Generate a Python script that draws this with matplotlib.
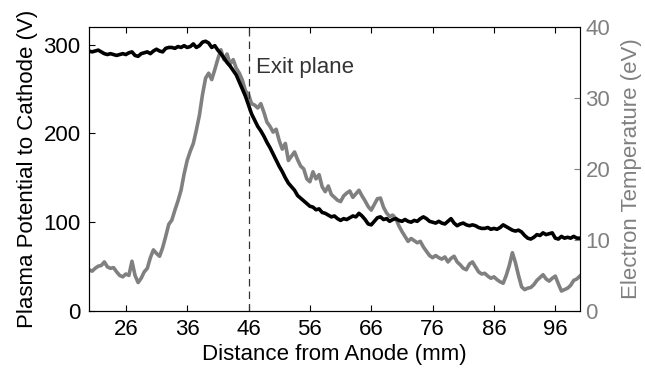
import numpy as np
import matplotlib
matplotlib.use("Agg")
import matplotlib.pyplot as plt

plt.rcParams['font.family'] = ['Liberation Sans', 'DejaVu Sans']
plt.rcParams['font.size'] = 16

# distance from anode (mm), sampled every 0.5 mm
dist = np.arange(20, 100.01, 0.5)

# plasma potential to cathode (V)
potential = [293, 292, 293, 294, 292, 290, 289, 290, 289, 288,
             289, 290, 289, 291, 292, 288, 287, 290, 291, 292,
             290, 293, 295, 293, 292, 296, 297, 297, 296, 298,
             297, 299, 297, 298, 301, 297, 299, 303, 304, 302,
             297, 299, 294, 290, 285, 280, 276, 271, 266, 258,
             250, 242, 232, 222, 215, 208, 203, 197, 190, 184,
             177, 170, 163, 157, 150, 144, 140, 136, 130, 127,
             124, 121, 118, 117, 114, 115, 111, 110, 108, 106,
             107, 104, 102, 104, 103, 105, 107, 106, 110, 107,
             103, 98, 97, 101, 105, 106, 103, 104, 101, 103,
             104, 102, 101, 103, 101, 100, 102, 101, 104, 106,
             104, 101, 100, 99, 101, 99, 98, 101, 104, 99,
             96, 98, 99, 97, 96, 97, 96, 94, 93, 93,
             94, 92, 93, 92, 94, 97, 95, 93, 91, 90,
             91, 89, 85, 82, 81, 83, 86, 85, 88, 86,
             87, 88, 82, 81, 84, 82, 83, 82, 84, 82,
             82]

# electron temperature (eV)
temperature = [5.8, 5.6, 6.0, 6.3, 6.4, 6.9, 6.2, 6.0, 6.1, 5.5,
               5.0, 4.8, 5.2, 5.0, 7.0, 5.0, 4.0, 4.6, 5.5, 6.0,
               7.5, 8.6, 8.1, 7.7, 8.9, 10.5, 12.2, 12.8, 14.2, 15.5,
               17.0, 19.3, 21.2, 22.5, 23.6, 25.5, 27.6, 30.5, 32.8, 33.5,
               32.6, 34.0, 35.5, 36.8, 35.4, 36.2, 34.8, 35.4, 34.2, 33.5,
               32.5, 31.0, 30.5, 29.2, 29.0, 28.6, 29.2, 28.0, 26.6, 26.0,
               25.2, 25.6, 24.0, 22.8, 23.6, 21.2, 21.8, 22.4, 21.3, 20.4,
               20.0, 18.6, 18.2, 19.6, 18.6, 19.2, 17.5, 16.8, 17.6, 16.4,
               16.0, 15.6, 15.4, 16.2, 16.6, 16.9, 16.0, 16.5, 17.0, 16.2,
               15.5, 14.7, 14.2, 15.0, 15.8, 15.9, 14.6, 13.8, 13.3, 13.5,
               13.0, 12.0, 11.2, 10.5, 9.8, 10.2, 9.9, 9.6, 9.8, 9.0,
               8.4, 7.8, 7.5, 7.8, 7.5, 7.3, 7.6, 6.9, 7.4, 7.7,
               6.9, 6.5, 6.0, 5.8, 6.6, 6.9, 6.2, 5.5, 5.2, 5.3,
               4.9, 4.6, 4.8, 4.4, 4.1, 3.9, 5.0, 6.4, 8.2, 6.8,
               5.0, 3.4, 3.0, 3.2, 3.3, 3.7, 4.3, 4.7, 5.1, 4.5,
               4.2, 4.6, 4.9, 3.8, 2.8, 3.0, 3.2, 3.6, 4.3, 4.5,
               4.9]

xticks = [26, 36, 46, 56, 66, 76, 86, 96]
exit_plane = 46
gray = '#808080'

fig = plt.figure(figsize=(6.45, 3.81), dpi=100)
ax = fig.add_subplot(111)
fig.subplots_adjust(left=0.138, right=0.899, top=0.929, bottom=0.184)

ax.plot(dist, potential, color='black', lw=2.6, zorder=3)
ax.axvline(exit_plane, color='#333333', lw=0.9, ls=(0, (6, 4)))
ax.text(exit_plane + 1.2, 274, 'Exit plane', color='#333333', va='center', ha='left')
ax.set_xlim(20, 100)
ax.set_ylim(0, 320)
ax.set_xticks(xticks)
ax.set_yticks([0, 100, 200, 300])
ax.tick_params(direction='in', length=4, top=True, right=True, pad=6)
ax.set_xlabel('Distance from Anode (mm)', labelpad=3)
ax.set_ylabel('Plasma Potential to Cathode (V)', labelpad=4)

ax2 = ax.twinx()
ax2.plot(dist, temperature, color=gray, lw=2.6, zorder=2)
ax2.set_ylim(0, 40)
ax2.set_yticks([0, 10, 20, 30, 40])
ax2.tick_params(direction='in', length=4, colors=gray, pad=4)
ax2.spines['right'].set_color(gray)
ax2.set_ylabel('Electron Temperature (eV)', color=gray, labelpad=8)
ax.set_zorder(ax2.get_zorder() + 1)
ax.patch.set_visible(False)

fig.savefig('out.png', dpi=100)
